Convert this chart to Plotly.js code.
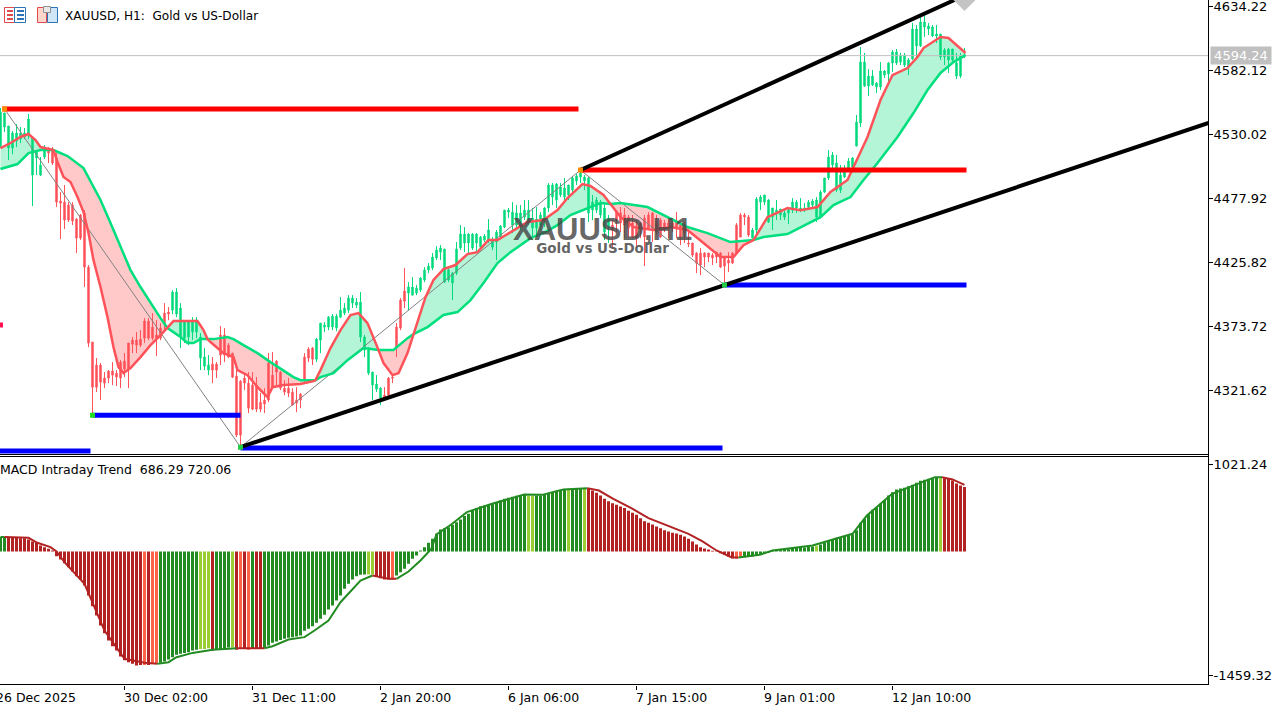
<!DOCTYPE html>
<html>
<head>
<meta charset="utf-8">
<title>XAUUSD, H1</title>
<script src="https://cdn.plot.ly/plotly-3.0.1.min.js"></script>
<style>html,body{margin:0;padding:0;background:#fff;overflow:hidden}
.boxlayer path{shape-rendering:crispEdges !important}</style>
</head>
<body>
<div id="chart" style="width:1284px;height:709px"></div>
<script>
// ---- candles (bar index = position in these arrays); the body colour shows trend, not direction
const high = [4551.6,4547.5,4536.9,4532.9,4538.5,4536.1,4535.3,4546.7,4528.0,4517.4,4511.7,4521.5,4519.8,4519.8,4514.9,4483.2,4488.9,4475.0,4475.0,4462.0,4465.3,4468.5,4423.8,4361.1,4348.1,4344.0,4336.7,4338.3,4344.8,4338.3,4346.4,4352.1,4360.3,4365.2,4369.2,4370.8,4380.6,4380.6,4384.7,4379.0,4376.5,4392.8,4389.6,4403.4,4405.0,4392.8,4379.0,4379.0,4381.4,4381.4,4368.4,4356.2,4350.5,4348.9,4344.8,4374.1,4372.5,4360.3,4352.1,4342.4,4330.1,4334.2,4336.7,4336.7,4332.6,4319.6,4323.6,4352.1,4352.9,4346.4,4337.5,4330.1,4331.8,4323.6,4324.4,4319.6,4352.1,4357.0,4357.0,4364.3,4376.5,4377.4,4382.2,4383.9,4383.9,4397.7,4392.8,4399.3,4399.3,4396.9,4401.8,4366.8,4357.0,4336.7,4334.2,4324.4,4324.4,4332.6,4334.2,4376.5,4396.9,4421.3,4409.9,4414.0,4407.5,4414.0,4422.1,4425.4,4433.5,4439.2,4440.0,4436.8,4421.3,4418.1,4442.5,4456.3,4454.7,4449.8,4449.8,4449.8,4447.4,4449.0,4461.2,4446.6,4452.3,4456.3,4468.5,4470.2,4475.0,4472.6,4472.6,4476.7,4476.7,4470.2,4471.0,4466.9,4471.0,4490.5,4490.5,4490.5,4490.5,4494.6,4488.9,4495.4,4497.8,4501.1,4497.0,4495.4,4480.8,4479.1,4476.7,4474.2,4464.5,4460.4,4468.5,4471.0,4470.2,4464.5,4464.5,4460.4,4458.8,4464.5,4466.9,4466.9,4464.5,4462.0,4460.4,4462.8,4462.0,4466.9,4458.8,4458.8,4450.6,4441.7,4434.3,4437.6,4434.3,4433.5,4433.5,4434.3,4434.3,4429.5,4434.3,4434.3,4458.0,4466.1,4466.1,4464.5,4453.9,4479.1,4480.8,4480.8,4477.5,4470.2,4476.7,4469.4,4468.5,4471.0,4478.3,4476.7,4478.3,4474.2,4476.7,4477.5,4479.1,4484.8,4494.6,4517.4,4515.8,4513.3,4505.2,4505.2,4510.9,4511.7,4545.9,4601.2,4596.4,4583.3,4582.5,4572.7,4589.0,4582.5,4589.0,4598.8,4599.6,4596.4,4596.4,4592.3,4620.8,4619.1,4628.1,4628.9,4620.8,4619.1,4619.1,4611.8,4600.4,4600.4,4599.6,4596.4,4596.4,4600.4];
const bodyTop = [4548.3,4547.5,4536.9,4531.2,4531.2,4531.2,4531.2,4542.6,4527.2,4515.8,4505.2,4519.8,4518.2,4517.4,4510.9,4475.9,4475.0,4472.6,4472.6,4461.2,4464.5,4466.1,4422.1,4361.1,4342.4,4342.4,4331.8,4337.5,4337.5,4335.8,4344.8,4345.6,4360.3,4362.7,4362.7,4363.5,4378.2,4378.2,4373.3,4366.8,4372.5,4384.7,4385.5,4401.8,4401.8,4388.8,4377.4,4377.4,4377.4,4379.0,4365.2,4348.9,4342.4,4343.2,4343.2,4366.8,4366.8,4358.6,4352.1,4333.4,4329.3,4331.8,4327.7,4326.1,4326.1,4312.2,4313.9,4344.0,4334.2,4345.6,4336.7,4323.6,4323.6,4320.4,4313.9,4318.7,4348.9,4355.4,4356.2,4363.5,4376.5,4374.9,4381.4,4382.2,4382.2,4387.1,4388.8,4396.9,4396.9,4393.6,4393.6,4365.2,4354.6,4336.7,4326.9,4323.6,4317.9,4331.8,4332.6,4373.3,4395.3,4402.6,4405.9,4405.9,4405.0,4413.2,4419.7,4422.9,4430.3,4436.0,4437.6,4436.8,4419.7,4417.2,4436.8,4449.0,4449.0,4449.0,4449.0,4449.0,4446.6,4447.4,4452.3,4444.1,4450.6,4455.5,4468.5,4468.5,4466.9,4466.1,4466.1,4468.5,4468.5,4462.0,4461.2,4464.5,4470.2,4488.9,4488.9,4489.7,4487.3,4486.4,4488.9,4494.6,4496.2,4498.6,4495.4,4494.6,4475.0,4476.7,4475.0,4470.2,4462.0,4456.3,4466.9,4466.1,4464.5,4462.8,4458.0,4454.7,4458.0,4462.0,4464.5,4466.1,4458.0,4460.4,4458.0,4458.0,4458.0,4458.8,4456.3,4456.3,4441.7,4441.7,4433.5,4433.5,4433.5,4433.5,4431.9,4434.3,4433.5,4429.5,4427.8,4433.5,4456.3,4464.5,4464.5,4462.8,4452.3,4477.5,4479.1,4480.8,4476.7,4470.2,4468.5,4469.4,4466.1,4468.5,4475.0,4475.0,4470.2,4470.2,4475.0,4475.9,4476.7,4483.2,4494.6,4511.7,4513.3,4506.8,4497.0,4499.5,4508.4,4510.9,4540.2,4589.0,4589.0,4577.6,4577.6,4571.9,4581.7,4581.7,4588.2,4597.2,4597.2,4594.7,4594.7,4590.7,4615.9,4615.9,4621.6,4621.6,4618.3,4617.5,4611.8,4611.8,4598.8,4599.6,4599.6,4588.2,4593.9,4594.7];
const bodyBottom = [4520.6,4536.1,4519.0,4519.0,4524.7,4526.3,4528.0,4529.6,4497.0,4510.9,4497.0,4511.7,4514.9,4506.8,4475.0,4474.2,4460.4,4460.4,4459.6,4445.7,4445.7,4422.1,4360.3,4324.4,4324.4,4328.5,4327.7,4331.8,4334.2,4332.6,4331.8,4339.1,4339.1,4359.4,4358.6,4358.6,4364.3,4364.3,4364.3,4364.3,4364.3,4375.7,4383.9,4387.1,4383.9,4365.2,4364.3,4365.2,4369.2,4369.2,4348.1,4341.5,4338.3,4338.3,4338.3,4350.5,4350.5,4348.9,4332.6,4285.4,4285.4,4327.7,4307.3,4306.5,4306.5,4306.5,4310.6,4313.9,4324.4,4336.7,4323.6,4320.4,4319.6,4309.8,4311.4,4313.9,4330.1,4348.1,4347.2,4347.2,4362.7,4373.3,4373.3,4373.3,4372.5,4381.4,4384.7,4387.1,4392.8,4391.2,4365.2,4354.6,4335.8,4326.1,4322.8,4315.5,4316.3,4317.9,4331.8,4357.0,4372.5,4394.4,4401.0,4399.3,4401.0,4403.4,4411.6,4419.7,4421.3,4429.5,4434.3,4409.9,4411.6,4409.1,4417.2,4437.6,4441.7,4441.7,4437.6,4441.7,4438.4,4444.1,4444.1,4438.4,4442.5,4446.6,4454.7,4466.9,4456.3,4456.3,4454.7,4462.8,4458.8,4453.9,4453.9,4456.3,4462.0,4470.2,4479.1,4476.7,4480.8,4479.1,4480.8,4484.8,4492.2,4495.4,4492.2,4466.1,4468.5,4468.5,4464.5,4450.6,4454.7,4452.3,4460.4,4458.0,4456.3,4453.9,4446.6,4445.7,4453.9,4446.6,4453.9,4453.9,4450.6,4446.6,4452.3,4453.9,4453.9,4454.7,4446.6,4449.8,4440.9,4431.9,4425.4,4423.8,4430.3,4430.3,4429.5,4430.3,4422.1,4423.0,4425.4,4425.4,4433.5,4446.6,4462.8,4448.2,4445.7,4452.3,4475.0,4475.0,4458.8,4462.8,4466.1,4464.5,4462.8,4466.1,4468.5,4470.2,4468.5,4468.5,4470.9,4472.6,4462.8,4462.8,4483.2,4494.6,4505.2,4484.8,4484.8,4495.4,4502.7,4503.5,4520.6,4539.4,4569.5,4569.5,4570.3,4568.7,4568.7,4578.4,4579.3,4588.2,4588.2,4589.0,4586.6,4585.0,4591.5,4602.1,4602.1,4617.5,4615.9,4610.2,4610.2,4593.1,4593.1,4590.7,4590.7,4577.6,4577.6,4593.9];
const low = [4519.0,4532.0,4509.2,4514.1,4519.8,4523.1,4526.3,4526.3,4471.8,4497.0,4496.2,4510.1,4506.8,4505.2,4471.0,4444.9,4453.1,4458.8,4456.3,4433.5,4444.1,4405.9,4357.0,4303.3,4320.4,4313.9,4323.6,4327.7,4326.1,4325.3,4323.6,4332.6,4323.6,4352.1,4352.1,4357.0,4360.3,4362.7,4362.7,4349.7,4362.7,4370.8,4379.0,4383.9,4381.4,4356.2,4360.3,4358.6,4362.7,4364.3,4338.3,4338.3,4334.2,4327.7,4331.8,4342.4,4344.8,4348.1,4331.8,4283.7,4274.8,4322.0,4303.3,4305.7,4304.1,4304.1,4303.3,4312.2,4324.4,4326.1,4322.0,4317.9,4316.3,4309.8,4304.1,4307.3,4328.5,4344.8,4342.4,4344.8,4352.1,4369.2,4370.8,4370.8,4370.0,4380.6,4383.1,4384.7,4388.8,4388.8,4361.1,4348.9,4334.2,4313.9,4320.4,4309.8,4315.5,4317.1,4327.7,4348.9,4370.8,4388.8,4387.1,4399.3,4399.3,4401.8,4409.9,4417.2,4419.7,4427.8,4427.8,4409.1,4409.9,4395.3,4415.6,4436.0,4434.3,4433.5,4436.0,4434.3,4437.6,4442.5,4441.7,4436.0,4427.8,4445.7,4453.9,4462.0,4449.8,4453.9,4452.3,4460.4,4456.3,4444.1,4448.2,4452.3,4454.7,4466.9,4472.6,4470.2,4479.1,4475.0,4476.7,4480.8,4488.9,4490.5,4484.8,4458.8,4460.4,4466.1,4462.0,4444.1,4441.7,4438.4,4450.6,4450.6,4445.7,4446.6,4445.7,4438.4,4445.7,4423.0,4452.3,4442.5,4448.2,4445.7,4450.6,4445.7,4450.6,4445.7,4440.0,4441.7,4438.4,4430.3,4417.2,4415.6,4422.1,4426.2,4423.8,4425.4,4421.3,4409.1,4418.1,4424.6,4431.9,4446.6,4456.3,4446.6,4445.7,4448.2,4468.5,4472.6,4458.0,4452.3,4460.4,4460.4,4460.4,4457.1,4466.1,4466.1,4466.9,4466.9,4470.2,4471.0,4458.8,4462.0,4482.4,4493.0,4501.1,4483.2,4482.4,4494.6,4501.1,4502.7,4520.6,4536.1,4568.7,4561.3,4569.5,4563.8,4566.2,4576.0,4569.5,4580.9,4586.6,4586.6,4585.0,4578.4,4590.7,4591.5,4601.2,4609.4,4611.0,4609.4,4604.5,4590.7,4586.6,4580.1,4588.2,4575.2,4576.0,4592.3];
// first and last bar of each run of candles, with its trend
const candleRuns = [[0,11,"up"],[12,42,"down"],[43,52,"up"],[53,78,"down"],[79,95,"up"],[96,101,"down"],[102,152,"up"],[153,187,"down"],[188,241,"up"]];

// ---- moving averages (bar position, price)
const fastBar = [0,2.5,5,7,8.75,10,13.25,14.25,15.75,17.5,19.25,20.75,22,23.25,25,26.75,28.25,29.5,30.75,32.5,35,37.5,40,41.75,43.25,45.75,49.25,50.75,51.75,52.5,54.25,55.75,58.25,59.25,61.75,64.25,66.75,68,70.75,75,78.25,78.75,80,82.5,85,87.5,89.5,91.75,94.5,95.75,98,99.5,101.75,103.25,106.25,108.25,110.75,113.75,116.75,119.25,122,124.25,128.25,131.75,135.75,139.25,141.75,145.5,147.5,150.75,152.5,153.75,155,158.25,163.25,167.5,171.75,175.75,180,183.25,185.75,188.25,191.75,196.75,200,204.25,207.5,211.75,213.25,216.75,220,223,226.75,229.25,230.75,235,237,241.25];
const fastMA = [4519.0,4523.1,4528.0,4530.4,4525.5,4519.8,4517.4,4507.6,4495.4,4491.3,4479.1,4466.9,4449.8,4427.8,4405.9,4381.4,4357.0,4340.7,4335.8,4339.9,4348.9,4358.6,4366.8,4372.5,4378.2,4378.2,4378.2,4370.8,4363.5,4361.1,4356.2,4352.1,4348.9,4338.3,4334.2,4324.4,4316.3,4324.4,4326.1,4326.9,4329.3,4330.1,4338.3,4356.2,4370.8,4383.1,4384.7,4376.5,4354.6,4344.0,4334.2,4335.8,4352.1,4367.6,4397.7,4411.6,4420.5,4423.8,4432.7,4434.3,4444.1,4444.1,4452.3,4458.8,4460.4,4468.5,4478.3,4489.7,4488.1,4480.8,4473.4,4468.5,4462.8,4454.7,4452.3,4454.7,4452.3,4441.7,4430.3,4430.3,4440.0,4444.1,4462.8,4470.2,4468.5,4471.0,4483.2,4493.0,4503.5,4528.0,4558.1,4578.4,4584.1,4593.1,4600.4,4609.4,4608.6,4596.4];
const slowBar = [0,4.25,7,10,13.25,16.75,20.75,23,25,27.5,30,32.5,35,37.5,40,41.75,42.5,45,46.75,48.25,50,51.75,53.25,56.75,58.25,60.75,64.25,67.5,70.75,73.25,75,78.25,78.75,80,83.25,86.75,90.75,94.5,98.25,101.75,103.25,106.75,110.75,114.25,117.5,120.75,124.25,127.5,132.5,135.75,139.25,142.5,146.75,150,152.5,155,161.75,166.75,171.75,176.75,182.5,188.25,190.75,196.75,205,208.25,212.5,215.75,219.25,224.25,228.25,231.75,235,238.25,241.25];
const slowMA = [4501.9,4506.0,4514.9,4517.4,4517.4,4512.5,4502.7,4488.9,4476.7,4458.0,4438.4,4419.7,4405.9,4392.8,4380.6,4372.5,4370.8,4365.2,4360.3,4360.3,4363.5,4363.5,4363.5,4365.2,4363.5,4358.6,4352.1,4344.8,4338.3,4332.6,4330.1,4330.1,4330.1,4332.6,4335.8,4346.4,4356.2,4354.6,4354.6,4364.3,4367.6,4373.3,4383.1,4385.5,4395.3,4409.1,4425.4,4434.3,4445.7,4449.8,4456.3,4464.5,4470.2,4474.2,4473.4,4474.2,4471.0,4462.8,4454.7,4449.8,4442.5,4444.1,4446.6,4449.0,4462.8,4472.6,4479.1,4493.0,4506.8,4528.0,4547.5,4566.2,4580.1,4589.0,4594.7];
// spans between crossings of the two averages
const cloudRuns = [[0,13.25,"up"],[13.25,41.75,"down"],[41.75,51.75,"up"],[51.75,78.75,"down"],[78.75,94.5,"up"],[94.5,103.25,"down"],[103.25,152.5,"up"],[152.5,188.25,"down"],[188.25,241.25,"up"]];

// ---- levels and trend lines
const resistanceLevels = [[0.5,144.5,4550.8],[145,241.5,4501.1]];
const supportLevels = [[-1,22.5,4272.4],[23,60,4301.6],[60,180.5,4274.8],[181,241.5,4407.5]];
const lowerTrend = {bar:[60,302],price:[4275.6,4539.4]};
const upperTrend = {bar:[145,238.5],price:[4501.1,4639.5]};
const zigzagBar = [1,60,145,181];
const zigzagPrice = [4550.8,4275.6,4501.1,4407.5];
const pivotBar = [1,23,60,145,181,0];
const pivotPrice = [4550.8,4301.6,4275.6,4501.1,4407.5,4374.9];
const pivotColor = ["#ff8c00","#22dd22","#22cc44","#ff8c00","#22cc44","#ff1050"];
const lastPrice = 4594.24;
const priceTicks = [4634.22,4582.12,4530.02,4477.92,4425.82,4373.72,4321.62];

// ---- MACD histogram, one value per bar
const macdHist = [169,169,169,161,161,157,157,141,118,102,71,51,31,12,-55,-94,-137,-184,-235,-290,-329,-400,-517,-643,-753,-870,-960,-1047,-1113,-1164,-1235,-1278,-1301,-1321,-1341,-1333,-1333,-1333,-1321,-1321,-1309,-1294,-1270,-1243,-1215,-1203,-1192,-1184,-1164,-1156,-1145,-1145,-1137,-1164,-1145,-1152,-1137,-1129,-1125,-1156,-1137,-1137,-1156,-1133,-1145,-1133,-1133,-1105,-1074,-1058,-1039,-1027,-1015,-1007,-1000,-988,-933,-909,-878,-839,-792,-745,-682,-635,-576,-517,-439,-380,-329,-290,-274,-270,-270,-270,-290,-314,-329,-329,-329,-282,-243,-204,-145,-86,-47,12,51,102,149,208,259,274,286,314,345,376,416,443,482,510,533,541,553,561,580,600,619,631,643,655,662,670,651,651,659,659,666,682,698,713,721,733,737,737,741,745,745,737,717,690,659,619,592,568,549,529,510,478,455,431,392,357,337,318,294,274,251,235,220,212,196,176,149,118,82,51,35,24,8,-4,-20,-39,-63,-82,-86,-74,-67,-59,-59,-47,-31,-27,-16,8,20,20,27,27,43,43,47,47,55,59,67,82,102,125,145,161,169,176,188,204,251,337,384,439,490,521,561,604,659,698,729,741,749,768,784,808,831,843,855,866,870,862,862,855,835,800,776,757];
const histRuns = [[1,"G"],[35,"R"],[36,"T"],[37,"R"],[39,"T"],[49,"G"],[52,"Y"],[53,"R"],[57,"G"],[58,"Y"],[59,"R"],[60,"T"],[61,"R"],[62,"T"],[63,"G"],[65,"R"],[91,"G"],[93,"Y"],[97,"R"],[98,"T"],[131,"G"],[133,"Y"],[141,"G"],[142,"Y"],[145,"G"],[146,"Y"],[183,"R"],[185,"T"],[203,"G"],[204,"Y"],[234,"G"],[235,"Y"],[241,"R"]];
const histPalette = {G:"#228B22",R:"#B22222",T:"#FF6347",Y:"#9ACD32"};
const signalBar = [0,1,7,9.2,12.5,14,16,21,26,31,36,39.2,42,44,48,53,58,59,66,68,72,76,78.5,82,85,90,93,97,99,102,105,107.7,109,112.6,116.6,122.9,130.9,135.4,140.7,146,146.7,149.6,153.2,157.7,162,167.5,172,175.5,179,182.7,184.5,189.8,193,203,213,216.6,222.9,233.6,235.4,238,241];
const signalLine = [169,169,161,102,51,0,-125,-380,-929,-1262,-1309,-1321,-1301,-1243,-1192,-1156,-1137,-1137,-1137,-1113,-1035,-1007,-929,-811,-596,-341,-282,-321,-321,-235,-106,31,200,314,463,561,670,666,729,749,745,717,619,510,392,286,208,118,12,-67,-71,-39,12,71,208,423,678,874,874,847,784];
const signalRuns = [[0,1,"#228B22"],[1,39.2,"#B22222"],[39.2,59,"#228B22"],[59,66,"#B22222"],[66,93,"#228B22"],[93,99,"#B22222"],[99,146.7,"#228B22"],[146.7,184.5,"#B22222"],[184.5,235.4,"#228B22"],[235.4,241,"#B22222"]];
const macdTicks = [1021.24,-1459.32];

// ---- time axis
const timeTickBars = [-1,31,63,95,127,159,191,223];
const timeTickLabels = ["26 Dec 2025","30 Dec 02:00","31 Dec 11:00","2 Jan 20:00","6 Jan 06:00","7 Jan 15:00","9 Jan 01:00","12 Jan 10:00"];

// ---- page geometry and colours
const W = 1284, H = 709, PLOT_R = 1208;
const px = x => x / W, py = y => 1 - y / H;
const UI = "DejaVu Sans";
const UP = "#00DA7C", DOWN = "#FF5259", UPFILL = "#B3F5D6", DOWNFILL = "#FFC9C9";
const idx = high.map((_, i) => i);

const traces = [];
cloudRuns.forEach(([a, b, t]) => {
  const inRun = x => x >= a && x <= b;
  const sx = slowBar.filter(inRun), sy = slowMA.filter((_, i) => inRun(slowBar[i]));
  const fx = fastBar.filter(inRun), fy = fastMA.filter((_, i) => inRun(fastBar[i]));
  traces.push({type:"scatter",mode:"lines",x:sx,y:sy,line:{width:0},hoverinfo:"skip",zorder:-1,xaxis:"x",yaxis:"y"});
  traces.push({type:"scatter",mode:"lines",x:fx,y:fy,line:{width:0},fill:"tonexty",fillcolor:t==="up"?UPFILL:DOWNFILL,hoverinfo:"skip",zorder:-1,xaxis:"x",yaxis:"y"});
});
["up","down"].forEach(t => {
  const sel = idx.filter(i => candleRuns.some(r => r[2] === t && i >= r[0] && i <= r[1]));
  const c = t === "up" ? UP : DOWN;
  const tops = sel.map(i => bodyTop[i]), bots = sel.map(i => bodyBottom[i]);
  traces.push({type:"candlestick",x:sel,
    open: t === "up" ? bots : tops, close: t === "up" ? tops : bots,
    high: sel.map(i => high[i]), low: sel.map(i => low[i]),
    increasing:{line:{color:c,width:1},fillcolor:c},decreasing:{line:{color:c,width:1},fillcolor:c},
    whiskerwidth:0,hoverinfo:"skip",xaxis:"x",yaxis:"y"});
});
traces.push({type:"scatter",mode:"lines",x:[-1,302],y:[lastPrice,lastPrice],line:{color:"#C0C0C0",width:1},hoverinfo:"skip",zorder:1,xaxis:"x",yaxis:"y"});
traces.push({type:"scatter",mode:"lines",x:zigzagBar,y:zigzagPrice,line:{color:"#808080",width:1},hoverinfo:"skip",zorder:1,xaxis:"x",yaxis:"y"});
traces.push({type:"scatter",mode:"lines",x:slowBar,y:slowMA,line:{color:"#00DF7E",width:2.5},hoverinfo:"skip",zorder:2,xaxis:"x",yaxis:"y"});
traces.push({type:"scatter",mode:"lines",x:fastBar,y:fastMA,line:{color:"#FF5259",width:2.5},hoverinfo:"skip",zorder:2,xaxis:"x",yaxis:"y"});
resistanceLevels.forEach(([a,b,p]) => traces.push({type:"scatter",mode:"lines",x:[a,b],y:[p,p],line:{color:"#FF0000",width:5},hoverinfo:"skip",zorder:3,xaxis:"x",yaxis:"y"}));
supportLevels.forEach(([a,b,p]) => traces.push({type:"scatter",mode:"lines",x:[a,b],y:[p,p],line:{color:"#0000FF",width:5},hoverinfo:"skip",zorder:3,xaxis:"x",yaxis:"y"}));
[lowerTrend, upperTrend].forEach(t => traces.push({type:"scatter",mode:"lines",x:t.bar,y:t.price,line:{color:"#000000",width:4},hoverinfo:"skip",zorder:3,xaxis:"x",yaxis:"y"}));
traces.push({type:"scatter",mode:"markers",x:pivotBar,y:pivotPrice,marker:{symbol:"square",size:5,color:pivotColor},hoverinfo:"skip",zorder:4,xaxis:"x",yaxis:"y"});
traces.push({type:"scatter",mode:"markers",x:[241],y:[4639.5],marker:{symbol:"diamond",size:17,color:"#C4C4C4"},hoverinfo:"skip",zorder:4,xaxis:"x",yaxis:"y"});

const histColors = [];
{ let s = 0; histRuns.forEach(([e, k]) => { for (let i = s; i <= e; i++) histColors.push(histPalette[k]); s = e + 1; }); }
traces.push({type:"bar",x:idx,y:macdHist,width:0.75,marker:{color:histColors,line:{width:0}},hoverinfo:"skip",xaxis:"x2",yaxis:"y2"});
signalRuns.forEach(([a,b,c]) => {
  const inRun = x => x >= a && x <= b;
  traces.push({type:"scatter",mode:"lines",x:signalBar.filter(inRun),y:signalLine.filter((_, i) => inRun(signalBar[i])),line:{color:c,width:2},hoverinfo:"skip",xaxis:"x2",yaxis:"y2"});
});

const txt = (text, x, y, extra) => Object.assign({text, xref:"paper", yref:"paper", x:px(x), y:py(y), xanchor:"left", yanchor:"middle", showarrow:false, font:{family:UI,size:12.5,color:"#000"}}, extra || {});
const annotations = [
  txt("XAUUSD, H1:  Gold vs US-Dollar", 62.5, 16, {font:{family:UI,size:12.1,color:"#000"}}),
  txt("MACD Intraday Trend  686.29 720.06", -2, 469),
  txt('<b><span style="font-family:Liberation Sans;font-size:31px;color:rgba(70,70,70,0.82)">XAUUSD,H1</span></b><br><b><span style="font-size:13.5px;color:rgba(90,90,90,0.95)">Gold vs US-Dollar</span></b>', 602, 233.5, {xanchor:"center", font:{family:UI,size:10,color:"#555"}}),
  txt(lastPrice.toFixed(2), 1210, 55.5, {bgcolor:"#C0C0C0", font:{family:UI,size:13,color:"#FFFFFF"}, borderpad:1, width:58, align:"center"})
];
timeTickBars.forEach((b, i) => annotations.push(txt(timeTickLabels[i], (b + 0.125) * 4 - 2.5, 697)));

const rectS = (x0,y0,x1,y1,line,fill) => ({type:"rect",xref:"paper",yref:"paper",x0:px(x0),x1:px(x1),y0:py(y0),y1:py(y1),line:{color:line,width:1},fillcolor:fill});
const lineS = (x0,y0,x1,y1,c,w) => ({type:"line",xref:"paper",yref:"paper",x0:px(x0),x1:px(x1),y0:py(y0),y1:py(y1),line:{color:c,width:w||2}});
const shapes = [
  rectS(4.5,7.5,14.5,22.5,"#E04A4A","#FFFFFF"), rectS(14.5,7.5,25.5,22.5,"#2B74B8","#FFFFFF"),
  lineS(7,11,13,11,"#E04A4A"), lineS(7,15,13,15,"#E04A4A"), lineS(7,19,13,19,"#E04A4A"),
  lineS(17,11,24,11,"#2B74B8"), lineS(17,15,24,15,"#2B74B8"), lineS(17,19,24,19,"#2B74B8"),
  rectS(37.5,7.5,46.5,22.5,"#E04A4A","#FFD5CC"), rectS(47.5,7.5,57.5,22.5,"#2B74B8","#CFE6F7"),
  rectS(43.5,6.5,50.5,12.5,"#909090","#E8E8E8"),
  lineS(0,454.5,PLOT_R,454.5,"#000",1), lineS(0,456.5,PLOT_R,456.5,"#000",1), lineS(0,684.5,PLOT_R,684.5,"#000",1),
  lineS(PLOT_R+0.5,0,PLOT_R+0.5,685,"#000",1)
];

const layout = {
  width:W, height:H, margin:{l:0,r:0,t:0,b:0,pad:0}, showlegend:false, hovermode:false, dragmode:false,
  paper_bgcolor:"#fff", plot_bgcolor:"#fff", barmode:"overlay", boxgap:0.5, boxmode:"overlay",
  xaxis:{domain:[0,PLOT_R/W],range:[-0.125,301.875],anchor:"y",showline:true,linecolor:"#000",linewidth:1,showgrid:false,zeroline:false,ticks:"",showticklabels:false,rangeslider:{visible:false},fixedrange:true},
  xaxis2:{domain:[0,PLOT_R/W],range:[-0.125,301.875],anchor:"y2",showline:true,mirror:true,linecolor:"#000",linewidth:1,showgrid:false,zeroline:false,ticks:"outside",ticklen:4,tickcolor:"#000",tickmode:"array",tickvals:timeTickBars.slice(1),ticktext:timeTickBars.slice(1).map(()=>""),fixedrange:true},
  yaxis:{domain:[1-454.5/H,1],range:[4269.6,4639.5],anchor:"x",side:"right",showline:true,linecolor:"#000",linewidth:1,showgrid:false,zeroline:false,ticks:"outside",ticklen:4,tickcolor:"#000",tickmode:"array",tickvals:priceTicks,ticktext:priceTicks.map(v=>v.toFixed(2)),tickfont:{family:UI,size:13,color:"#000"},ticklabeloverflow:"allow",ticklabelstandoff:-2,fixedrange:true},
  yaxis2:{domain:[1-684.5/H,1-456.5/H],range:[-1563.5,1116.8],anchor:"x2",side:"right",showline:true,linecolor:"#000",linewidth:1,showgrid:false,zeroline:false,ticks:"outside",ticklen:4,tickcolor:"#000",tickmode:"array",tickvals:macdTicks,ticktext:macdTicks.map(v=>v.toFixed(2)),tickfont:{family:UI,size:13,color:"#000"},ticklabeloverflow:"allow",ticklabelstandoff:-2,fixedrange:true},
  annotations, shapes
};
Plotly.newPlot("chart", traces, layout, {displayModeBar:false, staticPlot:true});
</script>
</body>
</html>
